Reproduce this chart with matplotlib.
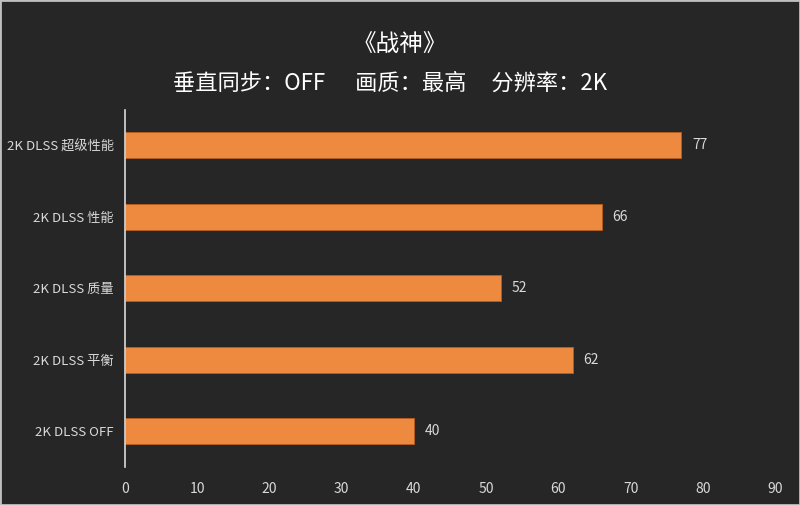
import matplotlib
matplotlib.use("Agg")
import matplotlib.pyplot as plt

plt.rcParams['font.family'] = ['Noto Sans CJK SC', 'DejaVu Sans']

categories = ["2K DLSS 超级性能", "2K DLSS 性能", "2K DLSS 质量", "2K DLSS 平衡", "2K DLSS OFF"]
values = [77, 66, 52, 62, 40]
xticks = [0, 10, 20, 30, 40, 50, 60, 70, 80, 90]

bg = '#262626'
bar_color = '#ED8A3F'
text_color = '#D9D9D9'


def main():
    fig = plt.figure(figsize=(8, 5.05), dpi=100, facecolor=bg)
    ax = fig.add_axes([0.156, 0.075, 0.813, 0.708], facecolor=bg)

    ypos = list(range(len(categories)))
    bars = ax.barh(ypos, values, height=0.36, color=bar_color,
                   edgecolor='#B85F1C', linewidth=0.6)
    for b, v in zip(bars, values):
        ax.text(b.get_width() + 1.5, b.get_y() + b.get_height() / 2, str(v),
                va='center', ha='left', color=text_color, fontsize=10)

    ax.set_yticks(ypos)
    ax.set_yticklabels(categories, color=text_color, fontsize=9.5)
    ax.set_ylim(len(categories) - 0.5, -0.5)
    ax.set_xlim(0, 90)
    ax.set_xticks(xticks)
    ax.set_xticklabels([str(t) for t in xticks], color=text_color, fontsize=10)
    ax.tick_params(length=0, pad=8)
    ax.tick_params(axis='x', pad=11)

    for s in ['top', 'right', 'bottom']:
        ax.spines[s].set_visible(False)
    ax.spines['left'].set_color('#D9D9D9')
    ax.spines['left'].set_linewidth(1.2)

    fig.text(0.5, 0.91, "《战神》", ha='center', va='center', color='white', fontsize=17)
    fig.text(0.488, 0.835, "垂直同步：OFF      画质：最高     分辨率：2K", ha='center', va='center',
             color='white', fontsize=16)

    fig.patches.append(plt.Rectangle((0, 0), 1, 1, transform=fig.transFigure,
                                     fill=False, edgecolor='#BFBFBF', linewidth=2))
    fig.savefig("out.png", facecolor=bg)


if __name__ == '__main__':
    main()
